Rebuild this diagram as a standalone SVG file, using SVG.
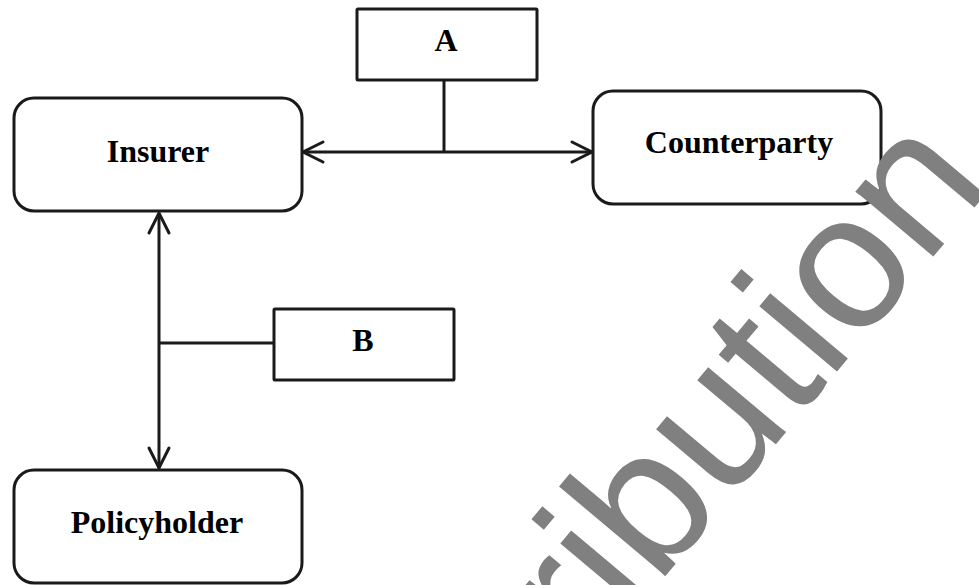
<svg xmlns="http://www.w3.org/2000/svg" width="979" height="585" viewBox="0 0 979 585">
  <defs>
    <style>
      .node { fill: #ffffff; stroke: #1a1a1a; stroke-width: 3; }
      .lbl { font-family: "Liberation Serif", "Times New Roman", serif; font-weight: bold; font-size: 32px; fill: #000000; text-anchor: middle; }
      .conn { fill: none; stroke: #1a1a1a; stroke-width: 3; }
      .wm { font-family: "Liberation Sans", Arial, sans-serif; font-size: 192px; fill: #808080; }
    </style>
    <marker id="arrow" viewBox="0 0 20 20" refX="20" refY="10" markerWidth="20" markerHeight="20" markerUnits="userSpaceOnUse" orient="auto-start-reverse" overflow="visible">
      <path d="M0,0 L20,10 L0,20" fill="none" stroke="#1a1a1a" stroke-width="3" stroke-linecap="round" stroke-linejoin="miter"/>
    </marker>
  </defs>
  <rect width="979" height="585" fill="#ffffff"/>

  <g id="connectors">
    <path class="conn" d="M444 80 V152"/>
    <path class="conn" d="M303 152 H592" marker-start="url(#arrow)" marker-end="url(#arrow)"/>
    <path class="conn" d="M159 213 V468" marker-start="url(#arrow)" marker-end="url(#arrow)"/>
    <path class="conn" d="M159 343 H274"/>
  </g>

  <g id="insurer">
    <rect class="node" x="14" y="98" width="288" height="113" rx="20"/>
    <text class="lbl" x="158" y="162">Insurer</text>
  </g>
  <g id="counterparty">
    <rect class="node" x="593" y="91" width="288" height="113" rx="20"/>
    <text class="lbl" x="739" y="153">Counterparty</text>
  </g>
  <g id="policyholder">
    <rect class="node" x="14" y="470" width="288" height="113" rx="20"/>
    <text class="lbl" x="157" y="533">Policyholder</text>
  </g>
  <g id="a">
    <rect class="node" x="357" y="9" width="180" height="71" rx="1"/>
    <text class="lbl" x="446" y="51">A</text>
  </g>
  <g id="b">
    <rect class="node" x="274" y="309" width="180" height="71" rx="1"/>
    <text class="lbl" x="363" y="351">B</text>
  </g>

  <g id="watermark">
    <text class="wm" transform="translate(588.7,667.4) rotate(-50)">ribution</text>
  </g>
</svg>
